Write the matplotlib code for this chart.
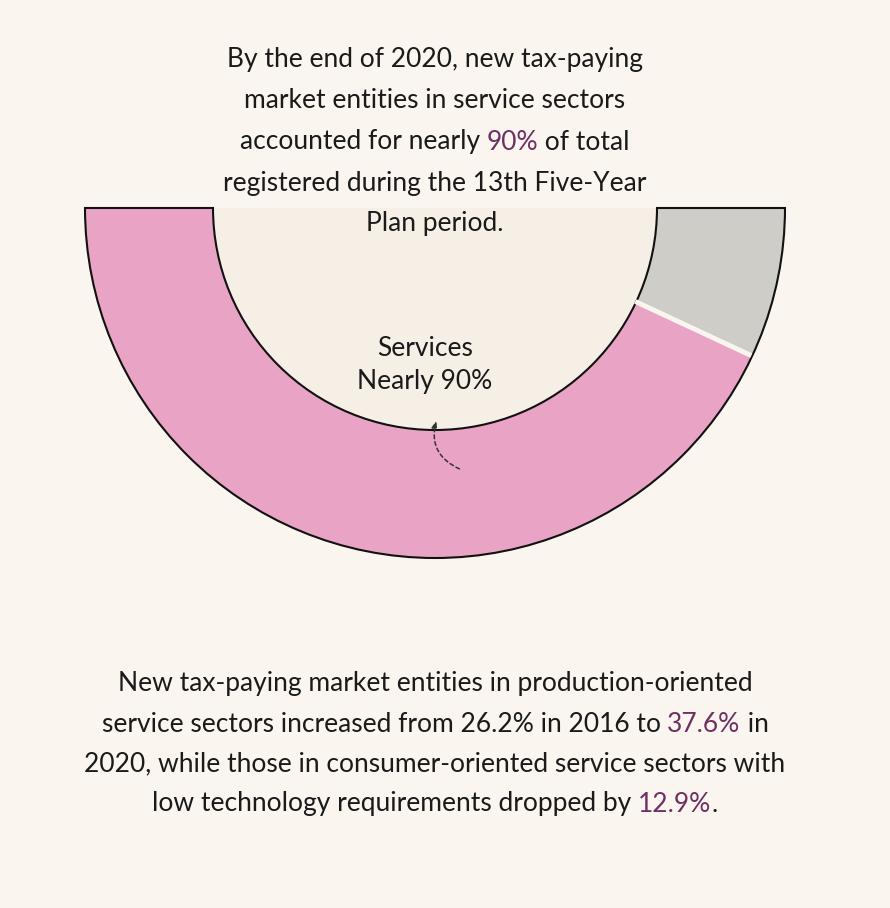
import matplotlib
matplotlib.use("Agg")
import matplotlib.pyplot as plt
from matplotlib.patches import Wedge
import numpy as np

# data
labels = ["Services", "Other"]
shares = [86.1, 13.9]
colors = ["#e9a3c4", "#cfcdc8"]

top_lines = [
    [("By the end of 2020, new tax-paying", "k")],
    [("market entities in service sectors", "k")],
    [("accounted for nearly ", "k"), ("90%", "hl"), (" of total", "k")],
    [("registered during the 13th Five-Year", "k")],
    [("Plan period.", "k")],
]
bottom_lines = [
    [("New tax-paying market entities in production-oriented", "k")],
    [("service sectors increased from 26.2% in 2016 to ", "k"), ("37.6%", "hl"), (" in", "k")],
    [("2020, while those in consumer-oriented service sectors with", "k")],
    [("low technology requirements dropped by ", "k"), ("12.9%", "hl"), (".", "k")],
]

bg = "#faf6ef"
hole = "#f6efe6"
txt = "#1a1a1a"
hl = "#6e2f63"

W, H = 890, 908
fig = plt.figure(figsize=(W / 100, H / 100), dpi=100, facecolor=bg)
ax = fig.add_axes([0, 0, 1, 1])
ax.set_facecolor(bg)

cx, cy = 435, H - 208
r_out, r_in = 350, 222

# half donut: pad with an invisible half
vals = shares + [sum(shares)]
wedges, _ = ax.pie(vals, center=(cx, cy), radius=r_out, startangle=180,
                   counterclock=True, colors=colors + ["none"],
                   wedgeprops=dict(width=r_out - r_in, edgecolor="none"))
# outline of whole half ring
ax.pie([1, 1], center=(cx, cy), radius=r_out, startangle=180, counterclock=True,
       colors=["none", "none"],
       wedgeprops=dict(width=r_out - r_in, edgecolor="none"))[0][0].set(edgecolor="#111111", linewidth=1.5)
# inner hole tint
ax.add_patch(Wedge((cx, cy), r_in - 0.8, 180, 360, facecolor=hole, edgecolor="none", zorder=0.5))

# divider between slices
ang = np.deg2rad(180 + 180 * shares[0] / sum(shares))
ax.plot([cx + (r_in - 1) * np.cos(ang), cx + (r_out - 1) * np.cos(ang)],
        [cy + (r_in - 1) * np.sin(ang), cy + (r_out - 1) * np.sin(ang)],
        color=bg, lw=3.5, solid_capstyle="butt", zorder=5)

ax.set_xlim(0, W)
ax.set_ylim(0, H)
ax.set_aspect("auto")
ax.axis("off")

renderer = fig.canvas.get_renderer()


def draw_line(y, parts, size, family):
    kw = dict(fontsize=size, family=family, va="center", ha="left")
    full = "".join(s for s, _ in parts)
    t = ax.text(0, y, full, **kw)
    total = t.get_window_extent(renderer).width
    t.remove()
    x0 = cx - total / 2
    prefix = ""
    for s, c in parts:
        if prefix:
            tp = ax.text(0, y, prefix + "|", **kw)
            tb = ax.text(0, y, "|", **kw)
            off = tp.get_window_extent(renderer).width - tb.get_window_extent(renderer).width
            tp.remove(); tb.remove()
        else:
            off = 0
        ax.text(x0 + off, y, s, color=hl if c == "hl" else txt, **kw)
        prefix += s


top_font = ["Lato", "DejaVu Sans"]
for i, parts in enumerate(top_lines):
    draw_line(H - (60 + 41 * i), parts, 19, top_font)

ax.text(cx - 10, H - 348, "Services", fontsize=19, family=top_font, color=txt, ha="center", va="center")
ax.text(cx - 10, H - 382, "Nearly 90%", fontsize=19, family=top_font, color=txt, ha="center", va="center")

ax.annotate("", xy=(437, H - 418), xytext=(462, H - 470),
            arrowprops=dict(arrowstyle="-|>,head_length=0.4,head_width=0.15", color="#333333",
                            lw=1.1, linestyle=(0, (2.5, 2)),
                            connectionstyle="arc3,rad=-0.45"))

bot_font = ["Lato", "DejaVu Sans"]
for i, parts in enumerate(bottom_lines):
    draw_line(H - (684 + 40 * i), parts, 19, bot_font)

fig.savefig("out.png", dpi=100, facecolor=bg)
